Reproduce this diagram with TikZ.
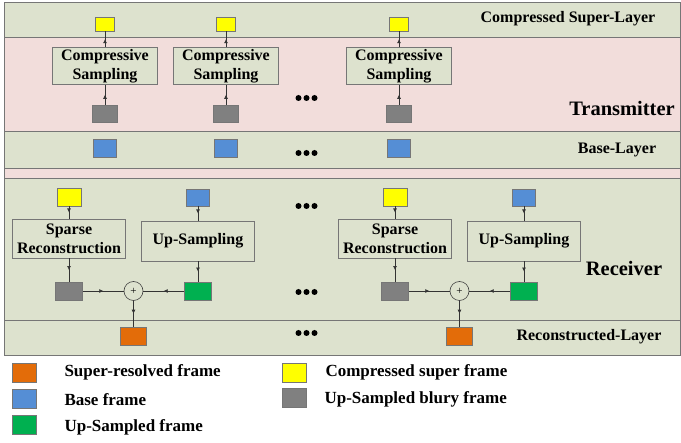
\documentclass[tikz,border=0pt]{standalone}
\usepackage{fontspec}
\setmainfont{Liberation Serif}
\usetikzlibrary{arrows.meta,decorations.markings}

\definecolor{bandgreen}{RGB}{221,226,206}
\definecolor{bandpink}{RGB}{242,221,219}
\definecolor{edgegray}{RGB}{118,118,118}
\definecolor{frameyellow}{RGB}{255,255,0}
\definecolor{framegray}{RGB}{128,128,128}
\definecolor{frameblue}{RGB}{85,142,213}
\definecolor{framegreen}{RGB}{0,176,80}
\definecolor{frameorange}{RGB}{227,108,9}

\tikzset{
  band/.style={draw=edgegray, fill=bandgreen, line width=0.9pt},
  frame/.style={draw=edgegray, line width=0.7pt, inner sep=0pt, minimum width=25pt, minimum height=18pt},
  procbox/.style={draw=edgegray, fill=bandgreen, line width=0.8pt, inner sep=0pt, align=center,
    font=\fontsize{16}{19}\selectfont\bfseries, minimum width=105pt, minimum height=37pt},
  recbox/.style={procbox, minimum width=113pt, minimum height=40pt},
  layertext/.style={font=\fontsize{16}{19}\selectfont\bfseries},
  sidetext/.style={font=\fontsize{20.5}{24}\selectfont\bfseries},
  legtext/.style={font=\fontsize{17}{20}\selectfont\bfseries, anchor=west},
  adder/.style={circle, draw=black!75, line width=0.6pt, inner sep=0pt, minimum size=19pt, font=\fontsize{11}{11}\selectfont},
  flow/.style={draw=black!80, line width=0.6pt, postaction={decorate},
    decoration={markings, mark=at position 0.5 with {\arrow{Latex[length=4pt,width=4pt]}}}}
}

\begin{document}
\begin{tikzpicture}[x=1pt, y=-1pt]
\useasboundingbox (0,0) rectangle (681,443);

% layers
\fill[bandpink] (4,2) rectangle (680,355);
\draw[band] (4,2) rectangle (680,37);
\draw[band] (4,131) rectangle (680,168);
\draw[band] (4,178) rectangle (680,320);
\draw[band] (4,320) rectangle (680,355);
\draw[draw=edgegray, line width=0.9pt] (4,2) rectangle (680,355);

\node[layertext] (lcs) at (568,19) {Compressed Super-Layer};
\node[sidetext] (ltx) at (622,108) {Transmitter};
\node[layertext] (lbl) at (617,150) {Base-Layer};
\node[sidetext] (lrx) at (624,268) {Receiver};
\node[layertext] (lrl) at (589,337) {Reconstructed-Layer};

% transmitter
\foreach \x [count=\i] in {105,226,399} {
  \node[frame, fill=frameyellow, minimum width=19pt, minimum height=14pt] (cy\i) at (\x,24) {};
  \node[procbox] (cs\i) at (\x,66) {Compressive\\Sampling};
  \node[frame, fill=framegray, minimum height=17pt] (ug\i) at (\x,113.5) {};
  \node[frame, fill=frameblue, minimum width=23pt] (bf\i) at (\x,148) {};
  \draw[flow] (ug\i) -- (cs\i);
  \draw[flow] (cs\i) -- (cy\i);
}

% receiver
\foreach \xs/\xu/\xp [count=\i] in {69/198/133.5, 395/524/459.5} {
  \node[frame, fill=frameyellow, minimum width=24pt] (ry\i) at (\xs,197) {};
  \node[recbox, minimum height=39pt] (sr\i) at (\xs,238.5) {Sparse\\Reconstruction};
  \node[frame, fill=framegray, minimum width=27pt] (rg\i) at (\xs,291) {};
  \node[frame, fill=frameblue, minimum width=23pt, minimum height=17pt] (rb\i) at (\xu,197.5) {};
  \node[recbox] (us\i) at (\xu,241) {Up-Sampling};
  \node[frame, fill=framegreen, minimum width=27pt] (rn\i) at (\xu,291) {};
  \node[adder] (ad\i) at (\xp,291) {+};
  \node[frame, fill=frameorange, minimum width=26pt] (ro\i) at (\xp,336) {};
  \draw[flow] (ry\i) -- (sr\i);
  \draw[flow] (sr\i) -- (rg\i);
  \draw[flow] (rb\i) -- (us\i);
  \draw[flow] (us\i) -- (rn\i);
  \draw[flow] (rg\i) -- (ad\i);
  \draw[flow] (rn\i) -- (ad\i);
  \draw[flow] (ad\i) -- (ro\i);
}

% dots
\foreach \y in {98,153,206,292,333}
  \foreach \x in {298.5,306.5,314.5}
    \fill (\x,\y) circle (3pt);

% legend
\node[frame, fill=frameorange, minimum width=24pt, minimum height=19pt] (kor) at (24,372.5) {};
\node[frame, fill=frameblue, minimum width=24pt, minimum height=19pt] (kbl) at (24,398.5) {};
\node[frame, fill=framegreen, minimum width=24pt, minimum height=19pt] (kgr) at (24,424.5) {};
\node[frame, fill=frameyellow, minimum width=24pt, minimum height=19pt] (kye) at (294,372.5) {};
\node[frame, fill=framegray, minimum width=24pt, minimum height=19pt] (kgy) at (294,398) {};
\node[legtext] at (61,372) {Super-resolved frame};
\node[legtext] at (61,400) {Base frame};
\node[legtext] at (61,427) {Up-Sampled frame};
\node[legtext] at (322,372) {Compressed super frame};
\node[legtext] at (321,399) {Up-Sampled blury frame};

\end{tikzpicture}
\end{document}
